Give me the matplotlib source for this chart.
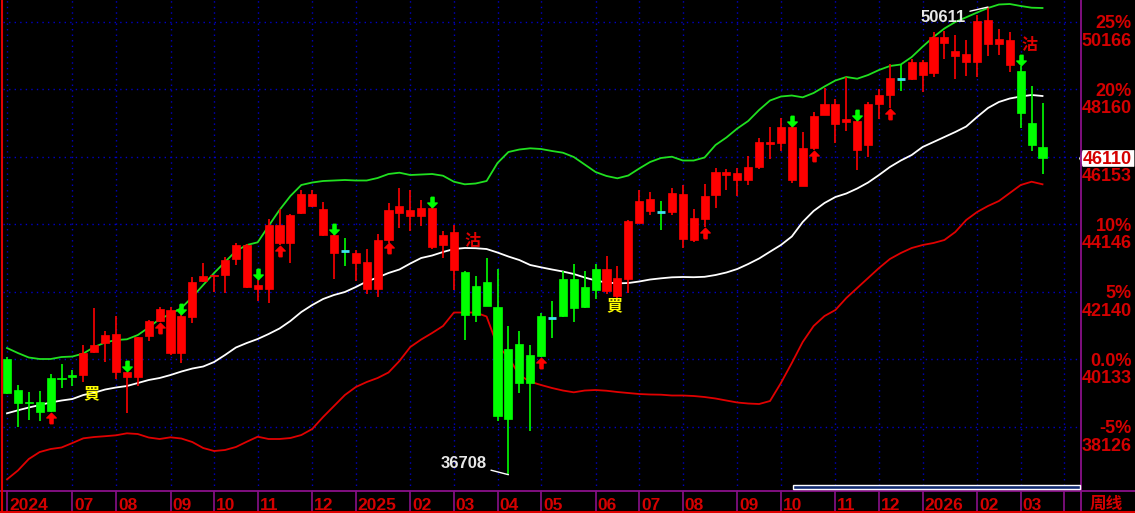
import matplotlib
matplotlib.use('Agg')
import matplotlib.pyplot as plt
from matplotlib.path import Path
from matplotlib.lines import Line2D
from matplotlib.patches import Rectangle, Polygon
import matplotlib.transforms as mtransforms

plt.rcParams['font.family'] = ['Liberation Sans', 'Noto Sans CJK TC', 'DejaVu Sans']

# ---------------- data (weekly candles) ----------------
opens = [40147, 39225, 38869, 38869, 39582, 39582, 39671, 39671, 40355, 40623,
         39760, 39612, 39612, 40831, 41277, 40325, 40325, 41396, 42466, 42615,
         42644, 43120, 42287, 42228, 42228, 43596, 43596, 44488, 44696, 43833,
         43298, 43358, 43001, 42228, 42228, 43685, 44488, 44398, 44398, 43477,
         43536, 42793, 42733, 42317, 42436, 41693, 40444, 40593, 40266, 41425,
         41366, 42525, 42525, 42287, 42823, 42169, 42020, 42525, 44190, 44547,
         44517, 44517, 43715, 43685, 44309, 45023, 45617, 45469, 45469, 45855,
         46539, 46569, 45469, 45290, 46420, 47401, 47133, 47193, 46360, 46509,
         47728, 47996, 48471, 48471, 48590, 48650, 49542, 49155, 48977, 48977,
         49512, 49512, 48888, 48709, 47163, 46450]
highs = [40206, 39374, 39166, 39196, 39701, 39998, 39820, 40563, 41663, 40979,
         41425, 39770, 40810, 41306, 41693, 41693, 41485, 42585, 43001, 42650,
         43179, 43596, 43566, 42496, 44309, 44606, 44458, 45171, 45171, 44815,
         43863, 43744, 43387, 43417, 43863, 44785, 45231, 45171, 44874, 44666,
         43952, 44131, 42750, 42615, 43150, 42823, 41128, 40979, 40563, 41515,
         41871, 42763, 42971, 42763, 42971, 43209, 42912, 44280, 45171, 45112,
         44844, 45231, 45320, 44606, 45350, 45825, 45796, 45825, 46182, 46717,
         47044, 47312, 47074, 46896, 47490, 48204, 47877, 48531, 47252, 47788,
         48174, 48917, 48917, 49066, 49036, 49869, 49898, 49779, 49631, 50374,
         50611, 49958, 49869, 48858, 48263, 47758]
lows = [39120, 38125, 38333, 38304, 38571, 39285, 39344, 39463, 40325, 40058,
        39552, 38542, 39344, 40682, 41247, 40266, 40028, 41217, 42450, 42139,
        42109, 42942, 42258, 41871, 41812, 43536, 43001, 44458, 44680, 43804,
        42525, 42912, 42466, 42079, 41990, 43596, 44042, 43952, 44101, 43417,
        43150, 42198, 40712, 41247, 41710, 38304, 36708, 39136, 38006, 40206,
        40771, 41410, 41247, 41663, 41931, 42079, 41901, 42109, 44180, 44428,
        43982, 44428, 43447, 43625, 44071, 44636, 45171, 44993, 45320, 45796,
        46093, 46331, 45379, 45280, 46360, 47390, 46569, 46925, 45766, 46152,
        47282, 47609, 48115, 48441, 48085, 48531, 49066, 48471, 48561, 48531,
        49155, 49185, 48679, 47015, 46331, 45647]
closes = [39136, 38839, 38845, 38571, 38601, 39552, 39612, 40325, 40563, 40860,
          40890, 39760, 40801, 41277, 41633, 41604, 41425, 42436, 42615, 42644,
          43090, 43536, 43536, 42347, 44131, 44131, 44428, 45052, 45052, 44606,
          43833, 43358, 43298, 43031, 43685, 44577, 44696, 44577, 44636, 44636,
          43833, 43923, 41455, 41455, 41723, 38452, 38363, 39433, 39433, 40236,
          41366, 41425, 41663, 41693, 42198, 42823, 42555, 44250, 44844, 44904,
          44517, 45082, 45052, 44339, 44993, 45706, 45706, 45677, 45855, 46598,
          46598, 47044, 47044, 46420, 47371, 47728, 47728, 47282, 47223, 47728,
          47996, 48501, 48471, 48977, 48977, 49720, 49720, 49304, 49215, 50196,
          50225, 49661, 49631, 47461, 46509, 46110]
upper = [40474, 40325, 40192, 40147, 40147, 40206, 40221, 40310, 40504, 40637,
         40712, 40733, 40860, 41083, 41336, 41485, 41663, 41990, 42347, 42704,
         43031, 43358, 43536, 43616, 44101, 44577, 44993, 45320, 45394, 45439,
         45454, 45469, 45454, 45454, 45528, 45647, 45686, 45617, 45632, 45647,
         45596, 45418, 45341, 45365, 45439, 45974, 46301, 46375, 46411, 46390,
         46331, 46280, 46152, 45929, 45706, 45588, 45519, 45602, 45810, 46004,
         46123, 46161, 46048, 46048, 46138, 46509, 46732, 47000, 47223, 47550,
         47832, 47951, 47981, 47927, 48055, 48248, 48427, 48531, 48480, 48590,
         48739, 48858, 48902, 49125, 49432, 49720, 49973, 50166, 50306, 50448,
         50582, 50686, 50701, 50642, 50591, 50582]
middle = [38533, 38622, 38705, 38779, 38854, 38913, 38958, 39077, 39145, 39240,
          39300, 39344, 39433, 39523, 39582, 39671, 39775, 39864, 39924, 40058,
          40266, 40489, 40623, 40742, 40890, 41054, 41277, 41544, 41752, 41931,
          42050, 42139, 42287, 42451, 42570, 42704, 42808, 42986, 43150, 43224,
          43328, 43417, 43447, 43441, 43417, 43313, 43194, 43090, 42942, 42873,
          42808, 42748, 42674, 42570, 42481, 42421, 42397, 42406, 42451, 42510,
          42546, 42576, 42585, 42579, 42591, 42644, 42719, 42823, 42971, 43135,
          43337, 43536, 43789, 44220, 44547, 44785, 44963, 45067, 45216, 45394,
          45617, 45855, 46048, 46212, 46450, 46598, 46747, 46896, 47059, 47342,
          47609, 47788, 47892, 47951, 47996, 47966]
lower = [36570, 36832, 37174, 37382, 37471, 37516, 37650, 37789, 37828, 37852,
         37879, 37938, 37917, 37813, 37769, 37819, 37783, 37679, 37501, 37412,
         37442, 37531, 37688, 37837, 37769, 37769, 37798, 37887, 38066, 38423,
         38750, 39077, 39314, 39463, 39582, 39746, 40087, 40504, 40727, 40920,
         41128, 41529, 41529, 41529, 41410, 40533, 40206, 39671, 39472, 39374,
         39285, 39210, 39157, 39210, 39225, 39204, 39166, 39136, 39106, 39092,
         39086, 39062, 39062, 39047, 39017, 38973, 38913, 38854, 38824, 38809,
         38898, 39433, 40028, 40652, 41128, 41425, 41604, 41960, 42258, 42555,
         42852, 43120, 43298, 43447, 43536, 43596, 43685, 43923, 44279, 44517,
         44696, 44844, 45082, 45320, 45418, 45341]

month_idx = [0, 6, 10, 15, 19, 23, 28, 32, 37, 41, 45, 49, 54, 58, 62, 67, 71, 76,
             80, 84, 89, 93, 97]
month_labels = ['2024', '07', '08', '09', '10', '11', '12', '2025', '02', '03', '04',
                '05', '06', '07', '08', '09', '10', '11', '12', '2026', '02', '03', '']
level_prices = [50166, 48160, 46153, 44146, 42140, 40133, 38126]
level_pcts = ['25%', '20%', '15%', '10%', '5%', '0.0%', '-5%']
buy_arrows = [4, 14, 25, 35, 49, 64, 74, 81]
sell_arrows = [11, 16, 23, 30, 39, 72, 78, 93]
buy_marks = [(7.7, 39120), (55.7, 41740)]
sell_marks = [(42.7, 43670), (93.8, 49480)]
hi_idx, lo_idx = 90, 46

# ---------------- figure ----------------
W, H = 1135, 513
fig = plt.figure(figsize=(W / 100, H / 100), dpi=100, facecolor='black')
ax = fig.add_axes([3 / W, 22 / H, 1078 / W, 491 / H])
ax.set_facecolor('black')
ax.set_xlim(-4 / 10.9, 1074 / 10.9)
ax.set_ylim(36223, 50820)
ax.axis('off')

GRID = '#0000c8'
RED = '#ff0000'
GREEN = '#00ff00'
TXT_RED = '#d40000'
PURPLE = '#8a108a'

for p in level_prices:
    ax.axhline(p, color=GRID, lw=1, ls=(0, (1, 3)), zorder=1)
for m in month_idx:
    ax.axvline(m, color=GRID, lw=1, ls=(0, (1, 3)), zorder=1)

# bands
xs = list(range(len(closes)))
ax.plot(xs, upper, color='#20e020', lw=1.3, zorder=2)
ax.plot(xs, middle, color='white', lw=1.3, zorder=2)
ax.plot(xs, lower, color='#e00000', lw=1.3, zorder=2)

# candles
bw = 0.74
for i, (o, h, l, c) in enumerate(zip(opens, highs, lows, closes)):
    if o == c:
        ax.vlines(i, l, h, color=GREEN, lw=1.2, zorder=3)
        ax.hlines(c, i - bw / 2, i + bw / 2, color='#40e0f0', lw=2, zorder=4)
        continue
    col = RED if c > o else GREEN
    ax.vlines(i, l, h, color=col, lw=1.2, zorder=3)
    ax.add_patch(Rectangle((i - bw / 2, min(o, c)), bw, abs(c - o),
                           facecolor=col, edgecolor=col, lw=0.5, zorder=4))

# arrow markers
down = Path([(-0.15, 0.5), (0.15, 0.5), (0.15, -0.05), (0.45, -0.05), (0, -0.5),
             (-0.45, -0.05), (-0.15, -0.05), (-0.15, 0.5)])
up = Path([(x, -y) for x, y in down.vertices])
off_up = mtransforms.ScaledTranslation(0, 5.5 / 100, fig.dpi_scale_trans)
off_dn = mtransforms.ScaledTranslation(0, -5.5 / 100, fig.dpi_scale_trans)
for i in sell_arrows:
    ax.plot([i], [highs[i]], marker=down, ms=7.5, color=GREEN, mec=GREEN,
            transform=ax.transData + off_up, zorder=5)
for i in buy_arrows:
    ax.plot([i], [lows[i]], marker=up, ms=7.5, color=RED, mec=RED,
            transform=ax.transData + off_dn, zorder=5)

for x, y in buy_marks:
    ax.text(x, y, '買', color='#ffff00', fontsize=11.5, fontweight='bold',
            family=['Noto Sans CJK TC'], ha='center', va='center', zorder=6)
for x, y in sell_marks:
    ax.text(x, y, '沽', color='#e00000', fontsize=11.5, fontweight='bold',
            family=['Noto Sans CJK TC'], ha='center', va='center', zorder=6)

ax.annotate(str(highs[hi_idx]), xy=(hi_idx, highs[hi_idx]), xytext=(-16, -7.5),
            textcoords='offset points', ha='right', va='center', color='#e8e8e8',
            fontsize=12, fontweight='bold', zorder=6,
            arrowprops=dict(arrowstyle='-', color='white', lw=1, shrinkA=1, shrinkB=0))
ax.annotate(str(lows[lo_idx]), xy=(lo_idx, lows[lo_idx]), xytext=(-15.5, 8.3),
            textcoords='offset points', ha='right', va='center', color='#e8e8e8',
            fontsize=12, fontweight='bold', zorder=6,
            arrowprops=dict(arrowstyle='-', color='white', lw=1, shrinkA=1, shrinkB=0))

# right axis labels (the level under the last-price tag is hidden, as in the source)
last = closes[-1]
for p, t in zip(level_prices, level_pcts):
    if abs(p - last) > 300:
        ax.annotate(t, xy=(1, p), xycoords=('axes fraction', 'data'), xytext=(36.7, -1.4),
                    textcoords='offset points', ha='right', va='center', color=TXT_RED,
                    fontsize=13, fontweight='bold', annotation_clip=False)
    ax.annotate(str(p), xy=(1, p), xycoords=('axes fraction', 'data'), xytext=(36.7, -13.8),
                textcoords='offset points', ha='right', va='center', color=TXT_RED,
                fontsize=13, fontweight='bold', annotation_clip=False)

# last-price tag: white box with small left notch
yr = ax.get_ylim()
px = (yr[1] - yr[0]) / 491.0
tag = Polygon([(1079.5 / W, last), (1083 / W, last + 8 * px), (1134 / W, last + 8 * px),
               (1134 / W, last - 8 * px), (1083 / W, last - 8 * px)],
              closed=True, facecolor='white', edgecolor='white', lw=0.5,
              transform=mtransforms.blended_transform_factory(fig.transFigure, ax.transData),
              clip_on=False, zorder=9)
ax.add_patch(tag)
ax.annotate(str(last), xy=(1, last), xycoords=('axes fraction', 'data'),
            xytext=(36.5, -1.0), textcoords='offset points', ha='right', va='center',
            color=TXT_RED, fontsize=13, fontweight='bold', annotation_clip=False, zorder=10)

# date axis
axd = fig.add_axes([3 / W, 0, 1078 / W, 22 / H])
axd.set_facecolor('black')
axd.set_xlim(-4 / 10.9, 1074 / 10.9)
axd.set_ylim(0, 1)
axd.axis('off')
for m, lab in zip(month_idx, month_labels):
    axd.vlines(m, 0, 1, color=PURPLE, lw=1.2)
    axd.text(m + 0.18, 0.36, lab, color=TXT_RED, fontsize=12.5, fontweight='bold',
             ha='left', va='center')

fig.text(1106 / W, 9.5 / H, '周线', color=TXT_RED, fontsize=12, fontweight='bold',
         family=['Noto Sans CJK SC'], ha='center', va='center')

# frame lines
fig.add_artist(Line2D([0, 1], [22 / H, 22 / H], color=PURPLE, lw=1.3))
fig.add_artist(Line2D([1081 / W, 1081 / W], [0, 1], color=PURPLE, lw=1.3))
fig.add_artist(Line2D([0, 1], [1 / H, 1 / H], color='#e00000', lw=1.5))
fig.add_artist(Line2D([1.5 / W, 1.5 / W], [0, 1], color='#e00000', lw=1.5))
fig.add_artist(Rectangle((793 / W, 24 / H), 287 / W, 4 / H, transform=fig.transFigure,
                         facecolor='#102a70', edgecolor='white', lw=1, zorder=10))

fig.savefig('out.png', dpi=100, facecolor='black')
